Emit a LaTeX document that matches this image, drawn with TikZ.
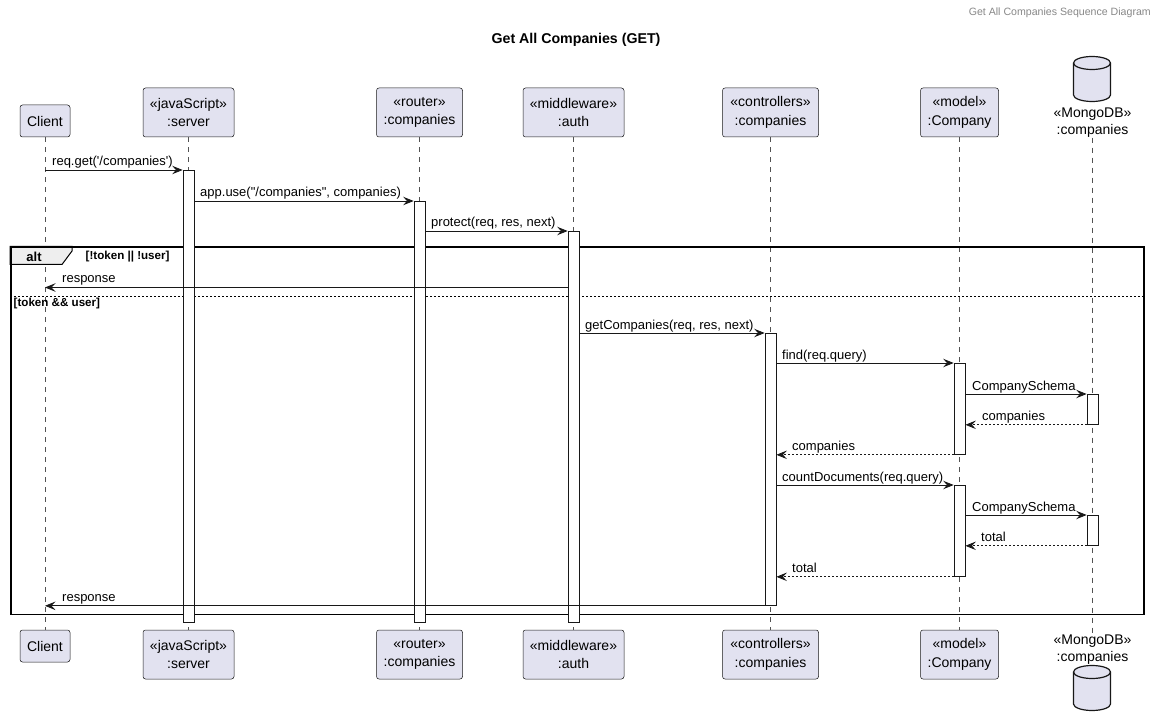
\documentclass[tikz,border=0pt]{standalone}
\usepackage{fontspec}
\newfontfamily\umlfont{Liberation Sans}
\usetikzlibrary{arrows.meta}
\definecolor{partfill}{HTML}{E2E2F0}
\definecolor{partline}{HTML}{181818}
\definecolor{tabfill}{HTML}{EEEEEE}
\definecolor{hdrgray}{HTML}{888888}
\tikzset{
  part/.style={draw=partline, line width=0.5pt, fill=partfill, rounded corners=2.5pt, inner sep=0pt, align=center, font=\umlfont\fontsize{14}{18.5}\selectfont},
  dbtext/.style={inner sep=0pt, align=center, font=\umlfont\fontsize{14}{17.5}\selectfont},
  dbshape/.style={draw=partline, line width=1.2pt, fill=partfill},
  life/.style={draw=partline!75, line width=0.5pt, dash pattern=on 5pt off 5pt},
  actbox/.style={draw=partline, line width=0.8pt, fill=white, minimum width=11pt, inner sep=0pt, anchor=north},
  msg/.style={draw=partline, line width=0.8pt, -{Stealth[length=10.5pt,width=8.5pt,inset=4pt]}},
  ret/.style={msg, dash pattern=on 2pt off 2pt},
  lbl/.style={anchor=base west, inner sep=0pt, font=\umlfont\fontsize{13}{15}\selectfont},
  grplbl/.style={anchor=west, inner sep=0pt, font=\umlfont\bfseries\fontsize{11.6}{13}\selectfont},
}
\begin{document}
\begin{tikzpicture}[x=1pt,y=-1pt]
\fill[white] (0,0) rectangle (1159,727);
\useasboundingbox (0,0) rectangle (1159,727);

% header and title
\node[anchor=base east, inner sep=0pt, text=hdrgray, font=\umlfont\fontsize{10.6}{12}\selectfont] (hdr) at (1151,16) {Get All Companies Sequence Diagram};
\node[inner sep=0pt, font=\umlfont\bfseries\fontsize{14.2}{16}\selectfont] (title) at (576,39.5) {Get All Companies (GET)};

% participants top
\node[part, minimum width=50, minimum height=32] (cliT) at (45,121) {Client};
\node[part, minimum width=91, minimum height=49] (srvT) at (188.5,112.5) {«javaScript»\\:server};
\node[part, minimum width=86, minimum height=49] (rtrT) at (419.5,112.5) {«router»\\:companies};
\node[part, minimum width=101, minimum height=49] (athT) at (573.5,112.5) {«middleware»\\:auth};
\node[part, minimum width=96, minimum height=49] (ctlT) at (770.5,112.5) {«controllers»\\:companies};
\node[part, minimum width=78, minimum height=49] (mdlT) at (959.5,112.5) {«model»\\:Company};
\node[dbtext] (dbT) at (1092.5,122.5) {«MongoDB»\\:companies};
\draw[dbshape] (1073.5,63) -- (1073.5,95) arc[start angle=180,end angle=0,x radius=18.5,y radius=6.5] -- (1110.5,63) arc[start angle=0,end angle=-180,x radius=18.5,y radius=6.5] -- cycle;
\draw[dbshape, fill=none] (1073.5,63) arc[start angle=180,end angle=0,x radius=18.5,y radius=6.5];

% participants bottom
\node[part, minimum width=50, minimum height=32] (cliB) at (45,646) {Client};
\node[part, minimum width=91, minimum height=49] (srvB) at (188.5,654.5) {«javaScript»\\:server};
\node[part, minimum width=86, minimum height=49] (rtrB) at (419.5,654.5) {«router»\\:companies};
\node[part, minimum width=101, minimum height=49] (athB) at (573.5,654.5) {«middleware»\\:auth};
\node[part, minimum width=96, minimum height=49] (ctlB) at (770.5,654.5) {«controllers»\\:companies};
\node[part, minimum width=78, minimum height=49] (mdlB) at (959.5,654.5) {«model»\\:Company};
\node[dbtext] (dbB) at (1092.5,649.5) {«MongoDB»\\:companies};
\draw[dbshape] (1073.5,672) -- (1073.5,704) arc[start angle=180,end angle=0,x radius=18.5,y radius=6.5] -- (1110.5,672) arc[start angle=0,end angle=-180,x radius=18.5,y radius=6.5] -- cycle;
\draw[dbshape, fill=none] (1073.5,672) arc[start angle=180,end angle=0,x radius=18.5,y radius=6.5];

% lifelines
\draw[life] (cliT.south) -- (cliB.north);
\draw[life] (srvT.south) -- (srvB.north);
\draw[life] (rtrT.south) -- (rtrB.north);
\draw[life] (athT.south) -- (athB.north);
\draw[life] (ctlT.south) -- (ctlB.north);
\draw[life] (mdlT.south) -- (mdlB.north);
\draw[life] (dbT.south) -- (dbB.north);

% alt frame
\coordinate (y296) at (0,296);
\draw[line width=1pt, fill=tabfill] (10,246.5) -- (72,246.5) -- (72,251) -- (62,264.5) -- (10,264.5) -- cycle;
\node[draw, line width=1.6pt, minimum width=1133, minimum height=367, anchor=north west, inner sep=0pt] (altF) at (10,246.5) {};
\draw[line width=0.6pt, dash pattern=on 2pt off 2pt] (altF.west |- y296) -- (altF.east |- y296);
\node[inner sep=0pt, font=\umlfont\bfseries\fontsize{13}{15}\selectfont] (altL) at (34,256.5) {alt};
\node[grplbl] (g1) at (85.5,256.5) {[!token || !user]};
\node[grplbl] (g2) at (13.5,304) {[token \&\& user]};

% activations
\node[actbox, minimum height=452] (aSrv) at (188.5,170) {};
\node[actbox, minimum height=421] (aRtr) at (419.5,201) {};
\node[actbox, minimum height=391] (aAuth) at (573.5,231) {};
\node[actbox, minimum height=272] (aCtl) at (770.5,333) {};
\node[actbox, minimum height=91] (aM1) at (959.5,363) {};
\node[actbox, minimum height=30] (aD1) at (1092.5,394) {};
\node[actbox, minimum height=91] (aM2) at (959.5,485) {};
\node[actbox, minimum height=30] (aD2) at (1092.5,515) {};

% messages
\coordinate (y287) at (0,287.5);
\draw[msg] (cliT.south |- aSrv.north) -- (aSrv.north west);
\node[lbl] (l1) at (52,166) {req.get('/companies')};
\draw[msg] (aSrv.east |- aRtr.north) -- (aRtr.north west);
\node[lbl] (l2) at (200,197) {app.use("/companies", companies)};
\draw[msg] (aRtr.east |- aAuth.north) -- (aAuth.north west);
\node[lbl] (l3) at (431,227) {protect(req, res, next)};
\draw[msg] (aAuth.west |- y287) -- (cliT.south |- y287);
\node[lbl] (l4) at (62,283) {response};
\draw[msg] (aAuth.east |- aCtl.north) -- (aCtl.north west);
\node[lbl] (l5) at (585,329) {getCompanies(req, res, next)};
\draw[msg] (aCtl.east |- aM1.north) -- (aM1.north west);
\node[lbl] (l6) at (782,359) {find(req.query)};
\draw[msg] (aM1.east |- aD1.north) -- (aD1.north west);
\node[lbl] (l7) at (972,390) {CompanySchema};
\draw[ret] (aD1.south west) -- (aM1.east |- aD1.south);
\node[lbl] (l8) at (982,420) {companies};
\draw[ret] (aM1.south west) -- (aCtl.east |- aM1.south);
\node[lbl] (l9) at (792,450) {companies};
\draw[msg] (aCtl.east |- aM2.north) -- (aM2.north west);
\node[lbl] (l10) at (782,481) {countDocuments(req.query)};
\draw[msg] (aM2.east |- aD2.north) -- (aD2.north west);
\node[lbl] (l11) at (972,511) {CompanySchema};
\draw[ret] (aD2.south west) -- (aM2.east |- aD2.south);
\node[lbl] (l12) at (981,541) {total};
\draw[ret] (aM2.south west) -- (aCtl.east |- aM2.south);
\node[lbl] (l13) at (792,572) {total};
\draw[msg] (aCtl.south west) -- (cliT.south |- aCtl.south);
\node[lbl] (l14) at (62,601) {response};
\end{tikzpicture}
\end{document}
